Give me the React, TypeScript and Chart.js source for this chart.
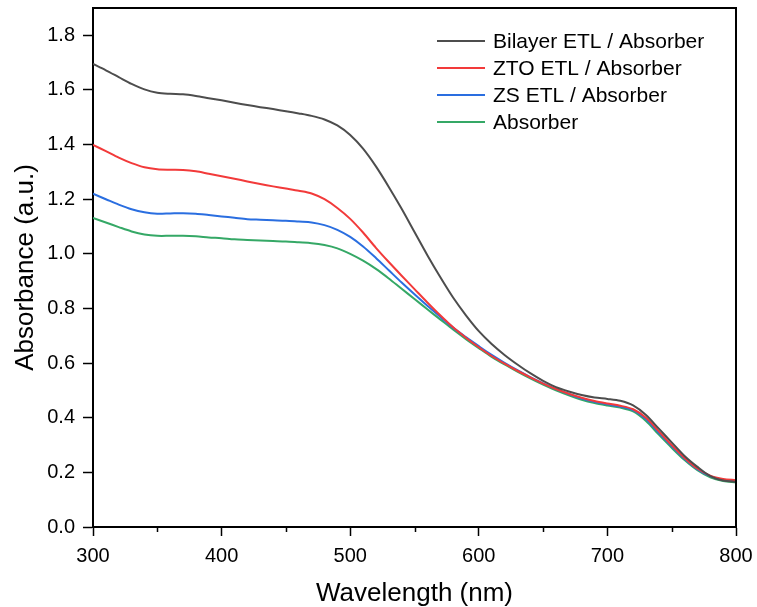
import React, { useEffect, useRef } from "react";
import { Chart, registerables } from "chart.js";

Chart.register(...registerables);

// Wavelength (nm)
const wavelengths = [
  300, 310, 320, 330, 340, 350, 360, 370, 380, 390,
  400, 410, 420, 430, 440, 450, 460, 470, 480, 490,
  500, 510, 520, 530, 540, 550, 560, 570, 580, 590,
  600, 610, 620, 630, 640, 650, 660, 670, 680, 690,
  700, 710, 720, 730, 740, 750, 760, 770, 780, 790,
  800,
];

const bilayer = [
  1.695, 1.672, 1.647, 1.622, 1.602, 1.590, 1.586, 1.584, 1.578, 1.570,
  1.562, 1.553, 1.545, 1.537, 1.530, 1.522, 1.514, 1.505, 1.492, 1.470,
  1.435, 1.385, 1.320, 1.245, 1.165, 1.080, 0.995, 0.915, 0.840, 0.775,
  0.717, 0.670, 0.630, 0.595, 0.563, 0.535, 0.512, 0.496, 0.483, 0.474,
  0.469, 0.462, 0.445, 0.410, 0.360, 0.310, 0.260, 0.220, 0.186, 0.170,
  0.166,
];

const zto = [
  1.399, 1.376, 1.352, 1.332, 1.317, 1.310, 1.308, 1.307, 1.302, 1.293,
  1.284, 1.275, 1.265, 1.256, 1.247, 1.239, 1.231, 1.221, 1.200, 1.168,
  1.128, 1.078, 1.022, 0.970, 0.920, 0.871, 0.822, 0.775, 0.731, 0.693,
  0.658, 0.626, 0.598, 0.572, 0.548, 0.525, 0.505, 0.488, 0.473, 0.461,
  0.452, 0.444, 0.431, 0.400, 0.350, 0.300, 0.253, 0.214, 0.188, 0.176,
  0.172,
];

const zs = [
  1.220, 1.200, 1.180, 1.163, 1.152, 1.147, 1.148, 1.149, 1.147, 1.142,
  1.137, 1.132, 1.127, 1.125, 1.123, 1.121, 1.118, 1.115, 1.105, 1.088,
  1.062, 1.027, 0.985, 0.940, 0.895, 0.852, 0.810, 0.770, 0.730, 0.695,
  0.662, 0.630, 0.601, 0.574, 0.549, 0.526, 0.505, 0.487, 0.470, 0.458,
  0.449, 0.441, 0.428, 0.395, 0.345, 0.296, 0.250, 0.212, 0.186, 0.172,
  0.168,
];

const absorber = [
  1.131, 1.115, 1.098, 1.082, 1.071, 1.066, 1.066, 1.066, 1.064, 1.060,
  1.057, 1.053, 1.051, 1.049, 1.047, 1.045, 1.042, 1.039, 1.032, 1.020,
  1.000, 0.975, 0.945, 0.910, 0.872, 0.835, 0.797, 0.760, 0.723, 0.688,
  0.655, 0.623, 0.595, 0.569, 0.544, 0.521, 0.500, 0.482, 0.466, 0.454,
  0.445, 0.437, 0.423, 0.388, 0.338, 0.290, 0.245, 0.208, 0.182, 0.168,
  0.163,
];

const seriesLabels = [
  "Bilayer ETL / Absorber",
  "ZTO ETL / Absorber",
  "ZS ETL / Absorber",
  "Absorber",
];
const seriesColors = ["#4d4d4d", "#f23a3a", "#2a6ee0", "#35a866"];

const xTicks = [300, 400, 500, 600, 700, 800];
const xMinorTicks = [350, 450, 550, 650, 750];
const yTicks = [0, 0.2, 0.4, 0.6, 0.8, 1.0, 1.2, 1.4, 1.6, 1.8];

const FONT = "Arial, 'Liberation Sans', sans-serif";

const framePlugin = {
  id: "frameAndLegend",
  afterDraw(chart: any) {
    const { ctx, chartArea, scales } = chart;
    const { left, right, top, bottom } = chartArea;
    ctx.save();
    ctx.strokeStyle = "#000";
    ctx.lineWidth = 2;
    ctx.beginPath();
    ctx.moveTo(left, top);
    ctx.lineTo(right, top);
    ctx.lineTo(right, bottom);
    ctx.stroke();

    ctx.lineWidth = 1.5;
    ctx.beginPath();
    xMinorTicks.forEach((v) => {
      const px = Math.round(scales.x.getPixelForValue(v)) + 0.5;
      ctx.moveTo(px, bottom);
      ctx.lineTo(px, bottom + 5);
    });
    ctx.stroke();

    // legend
    ctx.font = `21px ${FONT}`;
    ctx.textBaseline = "middle";
    ctx.textAlign = "left";
    chart.data.datasets.forEach((ds: any, i: number) => {
      const y = top + 33 + i * 27;
      const x0 = right - 299;
      ctx.strokeStyle = ds.borderColor;
      ctx.lineWidth = 2;
      ctx.beginPath();
      ctx.moveTo(x0, y);
      ctx.lineTo(x0 + 48, y);
      ctx.stroke();
      ctx.fillStyle = "#000";
      ctx.fillText(ds.label, x0 + 56, y + 1);
    });
    ctx.restore();
  },
};

export default function App() {
  const ref = useRef<HTMLCanvasElement | null>(null);

  useEffect(() => {
    if (!ref.current) return;
    const seriesValues = [bilayer, zto, zs, absorber];
    const chart = new Chart(ref.current, {
      type: "line",
      data: {
        datasets: seriesValues.map((vals, i) => ({
          label: seriesLabels[i],
          data: wavelengths.map((w, j) => ({ x: w, y: vals[j] })),
          borderColor: seriesColors[i],
          backgroundColor: seriesColors[i],
          borderWidth: 2,
          pointRadius: 0,
          tension: 0.3,
          fill: false,
        })),
      },
      options: {
        animation: false,
        responsive: true,
        maintainAspectRatio: false,
        layout: { padding: { top: 8, right: 21, left: 0, bottom: 0 } },
        plugins: {
          legend: { display: false },
          tooltip: { enabled: false },
        },
        scales: {
          x: {
            type: "linear",
            min: 300,
            max: 800,
            afterBuildTicks: (scale: any) => {
              scale.ticks = xTicks.map((v) => ({ value: v }));
            },
            afterFit: (scale: any) => {
              scale.height = 80;
              scale.paddingLeft = 0;
              scale.paddingRight = 0;
            },
            border: { display: true, color: "#000", width: 2 },
            grid: {
              drawOnChartArea: false,
              drawTicks: true,
              tickLength: 9,
              tickColor: "#000",
              tickWidth: 1.5,
            },
            ticks: {
              color: "#000",
              font: { family: FONT, size: 20 },
              padding: 8,
              maxRotation: 0,
              callback: (v: any) => String(v),
            },
            title: {
              display: true,
              text: "Wavelength (nm)",
              color: "#000",
              font: { family: FONT, size: 26, lineHeight: 1 },
              padding: { top: 0, bottom: 0 },
            },
          },
          y: {
            type: "linear",
            min: 0,
            max: 1.9,
            afterBuildTicks: (scale: any) => {
              scale.ticks = yTicks.map((v) => ({ value: v }));
            },
            afterFit: (scale: any) => {
              scale.width = 93;
              scale.paddingTop = 0;
              scale.paddingBottom = 0;
            },
            border: { display: true, color: "#000", width: 2 },
            grid: {
              drawOnChartArea: false,
              drawTicks: true,
              tickLength: 10,
              tickColor: "#000",
              tickWidth: 1.5,
            },
            ticks: {
              color: "#000",
              font: { family: FONT, size: 20 },
              padding: 8,
              callback: (v: any) => Number(v).toFixed(1),
            },
            title: {
              display: true,
              text: "Absorbance (a.u.)",
              color: "#000",
              font: { family: FONT, size: 26, lineHeight: 1 },
              padding: { top: 13, bottom: 0 },
            },
          },
        },
      },
      plugins: [framePlugin],
    });
    return () => chart.destroy();
  }, []);

  return (
    <div
      style={{
        position: "fixed",
        left: 0,
        top: 0,
        width: 757,
        height: 607,
        background: "#fff",
      }}
    >
      <canvas ref={ref} />
    </div>
  );
}
